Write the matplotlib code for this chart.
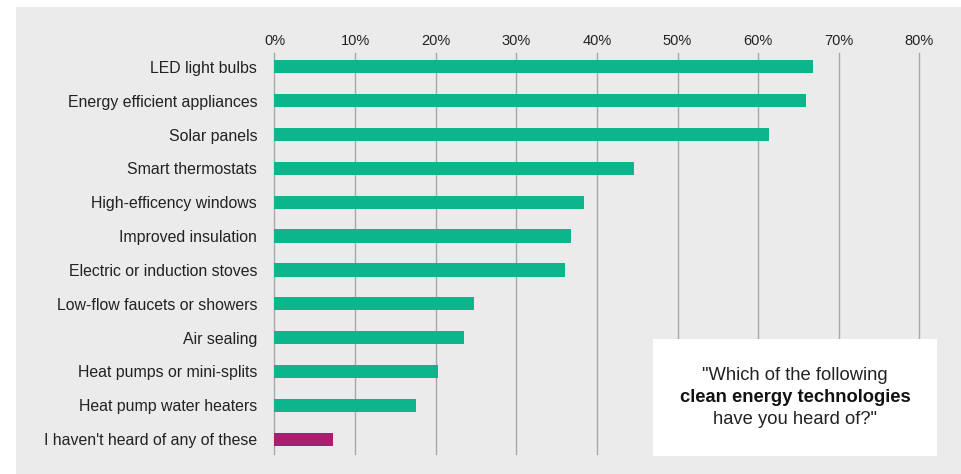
import numpy as np
import matplotlib.pyplot as plt
from matplotlib.patches import Rectangle

categories = ['LED light bulbs', 'Energy efficient appliances', 'Solar panels',
              'Smart thermostats', 'High-efficency windows', 'Improved insulation',
              'Electric or induction stoves', 'Low-flow faucets or showers',
              'Air sealing', 'Heat pumps or mini-splits', 'Heat pump water heaters',
              "I haven't heard of any of these"]
values = [66.8, 65.9, 61.3, 44.6, 38.4, 36.8, 36.0, 24.7, 23.5, 20.3, 17.6, 7.3]
ticks = [0, 10, 20, 30, 40, 50, 60, 70, 80]

green = '#0db58a'
magenta = '#a91e6e'
colors = [green] * (len(values) - 1) + [magenta]

W, H = 962, 474
fig = plt.figure(figsize=(W / 100, H / 100), dpi=100, facecolor='white')
plt.rcParams['font.family'] = ['Liberation Sans', 'DejaVu Sans']

# grey panel
fig.patches.append(Rectangle((16 / W, 0), 1 - 16 / W, 1 - 7 / H,
                             transform=fig.transFigure, facecolor='#ebebeb',
                             edgecolor='none', zorder=-1))

x0, x1 = 274.5, 919.4
ytop, ybot = 53, 454
ax = fig.add_axes([x0 / W, (H - ybot) / H, (x1 - x0) / W, (ybot - ytop) / H])
ax.set_facecolor('none')
ax.set_zorder(1)

y = np.arange(len(categories))
ax.barh(y, values, height=0.39, color=colors, zorder=3)
ax.set_xlim(0, 80)
ax.set_ylim(11.44, -0.41)

for t in ticks:
    ax.axvline(t, color='#a8a8a8', lw=1.0, zorder=1, clip_on=False)

for s in ax.spines.values():
    s.set_visible(False)
ax.xaxis.tick_top()
ax.set_xticks(ticks)
ax.set_xticklabels([f'{t}%' for t in ticks], fontsize=10.5, color='#222222')
ax.tick_params(axis='x', length=0, pad=3.5)
ax.set_yticks(y)
ax.set_yticklabels(categories, fontsize=11.4, color='#222222')
ax.tick_params(axis='y', length=0, pad=12.5)

# question box
bx0, bx1, by0, by1 = 653, 937, 339, 456
fig.patches.append(Rectangle((bx0 / W, (H - by1) / H), (bx1 - bx0) / W, (by1 - by0) / H,
                             transform=fig.transFigure, facecolor='white',
                             edgecolor='none', zorder=5))
cx = (bx0 + bx1) / 2 / W
fig.text(cx, (H - 375) / H, '"Which of the following', ha='center', va='center',
         fontsize=13.2, color='#222222', zorder=6)
fig.text(cx, (H - 397) / H, 'clean energy technologies', ha='center', va='center',
         fontsize=13.2, fontweight='bold', color='#111111', zorder=6)
fig.text(cx, (H - 419) / H, 'have you heard of?"', ha='center', va='center',
         fontsize=13.2, color='#222222', zorder=6)

fig.savefig('out.png', dpi=100, facecolor='white')
